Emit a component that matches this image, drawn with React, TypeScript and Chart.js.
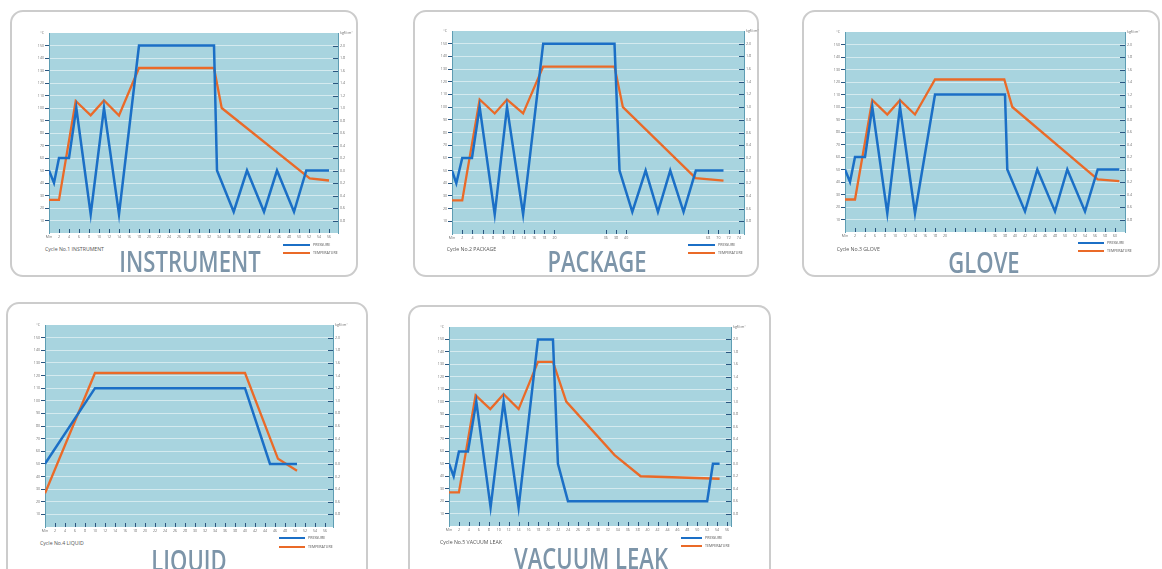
import React, { useEffect, useRef } from 'react';
import Chart from 'chart.js/auto';

// ---------- tick labels ----------
const leftTickLabels = ['', '10', '20', '30', '40', '50', '60', '70', '80', '90', '100', '110', '120', '130', '140', '150', '°C'];
const rightTickLabels = ['', '0.8', '0.6', '0.4', '0.2', '0.0', '0.2', '0.4', '0.6', '0.8', '1.0', '1.2', '1.4', '1.6', '1.8', '2.0', 'kgf/cm²'];
const tempMin = 0;
const tempStep = 10;
const pressMin = -1.0;
const pressStep = 0.2;

const minuteTicks = ['Min', '2', '4', '6', '8', '10', '12', '14', '16', '18', '20', '22', '24', '26', '28', '30', '32', '34', '36', '38', '40', '42', '44', '46', '48', '50', '52', '54', '56'];
const packageTicks = ['Min', '2', '4', '6', '8', '10', '12', '14', '16', '18', '20', '', '', '', '', '36', '38', '40', '', '', '', '', '', '', '', '68', '70', '72', '74'];
const gloveTicks = ['Min', '2', '4', '6', '8', '10', '12', '14', '16', '18', '20', '', '', '', '', '36', '38', '40', '42', '44', '46', '48', '50', '52', '54', '56', '58', '60'];

// ---------- series: [tick position, value] ; pressure in kgf/cm², temperature in °C ----------
const instrumentPressure = [[0, 0], [0.5, -0.2], [1, 0.2], [2, 0.2], [2.73, 1.0], [4.17, -0.7], [5.5, 1.0], [7, -0.7], [9, 2.0], [16.5, 2.0], [16.8, 0], [18.47, -0.66], [19.8, 0], [21.5, -0.66], [22.8, 0], [24.5, -0.66], [25.73, 0], [28, 0]];
const instrumentTemperature = [[0, 26.5], [1, 26.5], [2.67, 105.6], [4.17, 94.2], [5.5, 106], [7, 94], [9, 132], [16.5, 132], [17.27, 100], [26.07, 43.7], [28, 42]];

const packagePressure = [[0, 0], [0.42, -0.2], [1, 0.2], [1.95, 0.2], [2.7, 1.0], [4.17, -0.69], [5.37, 1.0], [6.94, -0.69], [8.9, 2.0], [15.86, 2.0], [16.35, 0], [17.6, -0.65], [18.9, 0], [20.1, -0.65], [21.3, 0], [22.6, -0.65], [23.8, 0], [26.5, 0]];
const packageTemperature = [[0, 26.5], [1, 26.5], [2.7, 106], [4.17, 95], [5.37, 106], [6.94, 95], [8.9, 132], [15.86, 132], [16.68, 100], [23.78, 44], [26.5, 42]];

const glovePressure = [[0, 0], [0.5, -0.2], [1, 0.2], [2, 0.2], [2.73, 1.0], [4.23, -0.7], [5.5, 1.0], [7, -0.7], [9, 1.2], [16, 1.2], [16.23, 0], [18, -0.67], [19.23, 0], [21, -0.67], [22.23, 0], [24, -0.67], [25.27, 0], [27.43, 0]];
const gloveTemperature = [[0, 26], [1, 26], [2.73, 105.5], [4.23, 94], [5.5, 105.5], [7, 94], [9, 122], [15.93, 122], [16.73, 100], [25.27, 42], [27.43, 40.7]];

const liquidPressure = [[0, 0], [5, 1.2], [20, 1.2], [22.5, 0], [25.2, 0]];
const liquidTemperature = [[0, 26.7], [5, 122], [20, 122], [23.3, 54], [25.2, 44.6]];

const vacuumPressure = [[0, 0], [0.47, -0.2], [1, 0.2], [1.91, 0.2], [2.75, 1.0], [4.19, -0.7], [5.5, 1.0], [7.01, -0.7], [8.96, 2.0], [10.47, 2.0], [10.97, 0], [11.98, -0.6], [26, -0.6], [26.58, 0], [27.25, 0]];
const vacuumTemperature = [[0, 27], [1, 27], [2.68, 105], [4.16, 94], [5.5, 106], [7.01, 94], [8.96, 132], [10.47, 132], [11.81, 100], [16.68, 57], [19.3, 40], [27.25, 38]];

// ---------- styles ----------
const BLUE = '#1b6fc6';
const ORANGE = '#ea6a28';
const PLOT_BG = '#a8d4df';
const GRID = 'rgba(255,255,255,0.5)';
const AXIS = '#5e9db3';
const MARK = '#2a5680';
const TICK_TXT = '#6e6e6e';
const TITLE = '#7d95a9';
const FONT = 'Open Sans';

type Cfg = {
  box: number[]; plot: number[]; xMax: number; ticks: string[]; allMarks: boolean;
  pressure: number[][]; temperature: number[][];
  cycle: string; title: string; cycleAt: number[]; legend: number[]; titleAt: number[];
};

const panels: Cfg[] = [
  { box: [10, 10, 348, 267], plot: [49.3, 32.7, 338.3, 232.7], xMax: 28.9, ticks: minuteTicks, allMarks: true,
    pressure: instrumentPressure, temperature: instrumentTemperature, cycle: 'Cycle No.1 INSTRUMENT', title: 'INSTRUMENT',
    cycleAt: [45, 249], legend: [283, 245, 27, 7.7], titleAt: [190, 250.7] },
  { box: [413, 10, 346, 267], plot: [451.7, 30.5, 743.3, 233.5], xMax: 28.5, ticks: packageTicks, allMarks: false,
    pressure: packagePressure, temperature: packageTemperature, cycle: 'Cycle No.2 PACKAGE', title: 'PACKAGE',
    cycleAt: [446.7, 249.3], legend: [688, 245, 27, 7.7], titleAt: [596.7, 250.7] },
  { box: [802, 10, 358, 267], plot: [845, 31.7, 1125, 231.7], xMax: 28, ticks: gloveTicks, allMarks: true,
    pressure: glovePressure, temperature: gloveTemperature, cycle: 'Cycle No.3 GLOVE', title: 'GLOVE',
    cycleAt: [836.7, 249], legend: [1078, 242.7, 26, 8.3], titleAt: [984, 251.7] },
  { box: [6, 302, 362, 290], plot: [45, 325, 333.3, 526.7], xMax: 28.8, ticks: minuteTicks, allMarks: true,
    pressure: liquidPressure, temperature: liquidTemperature, cycle: 'Cycle No.4 LIQUID', title: 'LIQUID',
    cycleAt: [40, 543.3], legend: [279, 538.3, 26, 8.4], titleAt: [189, 550] },
  { box: [408, 305, 363, 290], plot: [449.3, 327.3, 731.7, 526.7], xMax: 28.4, ticks: minuteTicks, allMarks: true,
    pressure: vacuumPressure, temperature: vacuumTemperature, cycle: 'Cycle No.5 VACUUM LEAK', title: 'VACUUM LEAK',
    cycleAt: [440, 542.3], legend: [681, 538, 21, 8], titleAt: [590.7, 548.3] },
];

const PAD_L = 24, PAD_R = 24, PAD_T = 10, PAD_B = 12;

const bgPlugin = {
  id: 'plotBg',
  beforeDraw(chart: any) {
    const { ctx, chartArea: a } = chart;
    ctx.save();
    ctx.fillStyle = PLOT_BG;
    ctx.fillRect(a.left, a.top, a.right - a.left, a.bottom - a.top);
    ctx.restore();
  },
};

function CycleChart({ cfg }: { cfg: Cfg }) {
  const ref = useRef<HTMLCanvasElement>(null);
  const [L, T, R, B] = cfg.plot;
  const left = Math.round(L) - PAD_L;
  const top = Math.round(T) - PAD_T;
  const w = Math.round(R - L) + PAD_L + PAD_R;
  const h = Math.round(B - T) + PAD_T + PAD_B;

  useEffect(() => {
    const marks = {
      id: 'marks',
      beforeDatasetsDraw(chart: any) {
        const { ctx, chartArea: a, scales } = chart;
        ctx.save();
        ctx.strokeStyle = MARK;
        ctx.lineWidth = 1;
        ctx.beginPath();
        cfg.ticks.forEach((lab, i) => {
          if (i === 0) return;
          if (!cfg.allMarks && !lab) return;
          const x = Math.round(scales.x.getPixelForValue(i)) + 0.5;
          ctx.moveTo(x, a.bottom);
          ctx.lineTo(x, a.bottom - 4);
        });
        rightTickLabels.forEach((lab, i) => {
          if (i === 0 || i === rightTickLabels.length - 1) return;
          const y = Math.round(scales.yP.getPixelForValue(pressMin + i * pressStep)) + 0.5;
          ctx.moveTo(a.right - 5, y);
          ctx.lineTo(a.right, y);
        });
        ctx.stroke();
        ctx.restore();
      },
    };
    const tickFont = { family: FONT, size: 3.6 };
    const edge = (i: number) => i === 0 || i === leftTickLabels.length - 1;
    const chart = new Chart(ref.current as HTMLCanvasElement, {
      type: 'line',
      data: {
        datasets: [
          { label: 'PRESSURE', data: cfg.pressure as any, yAxisID: 'yP', borderColor: BLUE, backgroundColor: BLUE, borderWidth: 2.5, pointRadius: 0, tension: 0, fill: false },
          { label: 'TEMPERATURE', data: cfg.temperature as any, yAxisID: 'yT', borderColor: ORANGE, backgroundColor: ORANGE, borderWidth: 2.3, pointRadius: 0, tension: 0, fill: false },
        ],
      },
      options: {
        animation: false,
        responsive: false,
        maintainAspectRatio: false,
        events: [],
        layout: { padding: { top: PAD_T, left: 0, right: 0, bottom: 0 } },
        plugins: { legend: { display: false }, tooltip: { enabled: false }, title: { display: false } },
        scales: {
          x: {
            type: 'linear', min: 0, max: cfg.xMax, position: 'bottom',
            afterFit: (s: any) => { s.height = PAD_B; },
            afterBuildTicks: (s: any) => { s.ticks = cfg.ticks.map((_, i) => ({ value: i })); },
            ticks: { callback: (_v: any, i: number) => cfg.ticks[i] ?? '', autoSkip: false, maxRotation: 0, minRotation: 0, padding: 2, font: tickFont, color: TICK_TXT },
            grid: { display: false, drawTicks: false },
            border: { display: false },
          },
          yT: {
            type: 'linear', position: 'left', min: tempMin, max: tempMin + tempStep * (leftTickLabels.length - 1),
            afterFit: (s: any) => { s.width = PAD_L; },
            afterBuildTicks: (s: any) => { s.ticks = leftTickLabels.map((_, i) => ({ value: tempMin + i * tempStep })); },
            ticks: { callback: (_v: any, i: number) => leftTickLabels[i], autoSkip: false, padding: 1, font: tickFont, color: TICK_TXT },
            grid: {
              color: (c: any) => (edge(c.index) ? 'rgba(0,0,0,0)' : GRID),
              tickColor: (c: any) => (edge(c.index) ? 'rgba(0,0,0,0)' : MARK),
              tickLength: 4, lineWidth: 1,
            },
            border: { display: true, color: AXIS, width: 1 },
          },
          yP: {
            type: 'linear', position: 'right', min: pressMin, max: pressMin + pressStep * (rightTickLabels.length - 1),
            afterFit: (s: any) => { s.width = PAD_R; },
            afterBuildTicks: (s: any) => { s.ticks = rightTickLabels.map((_, i) => ({ value: pressMin + i * pressStep })); },
            ticks: { callback: (_v: any, i: number) => rightTickLabels[i], autoSkip: false, padding: 2, font: tickFont, color: TICK_TXT },
            grid: { drawOnChartArea: false, drawTicks: false },
            border: { display: true, color: AXIS, width: 1 },
          },
        },
      } as any,
      plugins: [bgPlugin, marks],
    });
    return () => chart.destroy();
  }, []);

  return (
    <canvas ref={ref} width={w} height={h}
      style={{ position: 'absolute', left, top, width: w, height: h }} />
  );
}

function Panel({ cfg }: { cfg: Cfg }) {
  const [bx, by, bw, bh] = cfg.box;
  const [lx, ly, lw, gap] = cfg.legend;
  const legendText: React.CSSProperties = {
    position: 'absolute', fontFamily: FONT, fontSize: 3.6, lineHeight: '4px', color: '#555', whiteSpace: 'nowrap',
  };
  return (
    <>
      <div style={{
        position: 'absolute', left: bx, top: by, width: bw, height: bh, boxSizing: 'border-box',
        border: '2px solid #cccccc', borderRadius: 13, background: '#fff',
      }} />
      <CycleChart cfg={cfg} />
      <div style={{
        position: 'absolute', left: cfg.cycleAt[0], top: cfg.cycleAt[1] - 3, fontFamily: FONT, fontSize: 5.2,
        lineHeight: '6px', color: '#555', whiteSpace: 'nowrap',
      }}>{cfg.cycle}</div>
      <div style={{ position: 'absolute', left: lx, top: ly - 1, width: lw, height: 2, background: BLUE }} />
      <div style={{ ...legendText, left: lx + lw + 3, top: ly - 2 }}>PRESSURE</div>
      <div style={{ position: 'absolute', left: lx, top: ly + gap - 1, width: lw, height: 2, background: ORANGE }} />
      <div style={{ ...legendText, left: lx + lw + 3, top: ly + gap - 2 }}>TEMPERATURE</div>
      <div style={{
        position: 'absolute', left: cfg.titleAt[0], top: cfg.titleAt[1] - 5.05, fontFamily: FONT, fontWeight: 600,
        fontSize: 29, lineHeight: '29px', color: TITLE, whiteSpace: 'nowrap',
        transform: 'translateX(-50%) scaleX(0.76)', transformOrigin: 'center',
      }}>{cfg.title}</div>
    </>
  );
}

export default function App() {
  return (
    <div style={{ position: 'absolute', left: 0, top: 0, width: 1162, height: 569, overflow: 'hidden', background: '#fff' }}>
      {panels.map((p) => <Panel key={p.title} cfg={p} />)}
    </div>
  );
}
